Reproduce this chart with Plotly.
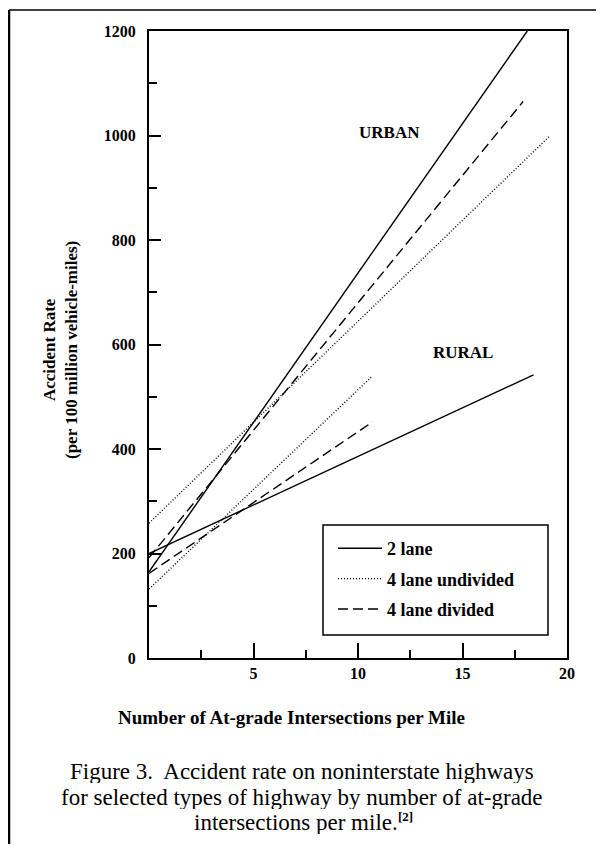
import plotly.graph_objects as go

# ---- data ----
x_axis_ticks = [5, 10, 15, 20]
x_minor_ticks = [2.5, 7.5, 12.5, 17.5]
y_axis_ticks = [0, 200, 400, 600, 800, 1000, 1200]
y_minor_ticks = [100, 300, 500, 700, 900, 1100]

series_names = ["2 lane", "4 lane undivided", "4 lane divided"]

urban_2lane_x = [0, 18.1]
urban_2lane_y = [165, 1200]
urban_4undiv_x = [0, 19.2]
urban_4undiv_y = [258, 1000]
urban_4div_x = [0, 17.9]
urban_4div_y = [192, 1065]

rural_2lane_x = [0, 18.4]
rural_2lane_y = [200, 542]
rural_4undiv_x = [0, 10.7]
rural_4undiv_y = [132, 540]
rural_4div_x = [0, 10.7]
rural_4div_y = [162, 452]

SERIF = "Liberation Serif"
dashes = {"2 lane": "solid", "4 lane undivided": "1px,2px", "4 lane divided": "10px,5px"}

fig = go.Figure()

urban = {"2 lane": (urban_2lane_x, urban_2lane_y),
         "4 lane undivided": (urban_4undiv_x, urban_4undiv_y),
         "4 lane divided": (urban_4div_x, urban_4div_y)}
rural = {"2 lane": (rural_2lane_x, rural_2lane_y),
         "4 lane undivided": (rural_4undiv_x, rural_4undiv_y),
         "4 lane divided": (rural_4div_x, rural_4div_y)}

for name in series_names:
    xs, ys = urban[name]
    fig.add_trace(go.Scatter(x=xs, y=ys, mode="lines", name=name, legendgroup=name,
                             line=dict(color="black", width=1.4, dash=dashes[name]),
                             showlegend=True, hoverinfo="skip"))
for name in series_names:
    xs, ys = rural[name]
    fig.add_trace(go.Scatter(x=xs, y=ys, mode="lines", name=name, legendgroup=name,
                             line=dict(color="black", width=1.4, dash=dashes[name]),
                             showlegend=False, hoverinfo="skip"))

# The page body adds an 8px margin; the figure is sized so it fills the window.
OFF = 8
W, H = 604 - 2 * OFF, 852 - 2 * OFF
PL, PT, PW, PH = 149, 31, 418, 627          # plot area in window pixels
L, T = PL - OFF, PT - OFF
R, B = W - L - PW, H - T - PH

def px(xpix):
    return (xpix - PL) / PW

def py(ypix):
    return (PT + PH - ypix) / PH

bold = dict(family=SERIF, size=16, color="black", weight="bold")

fig.update_layout(
    width=W, height=H,
    margin=dict(l=L, r=R, t=T, b=B),
    paper_bgcolor="white", plot_bgcolor="white",
    showlegend=True,
    legend=dict(x=px(333), y=py(530), xanchor="left", yanchor="top",
                bgcolor="rgba(0,0,0,0)", borderwidth=0,
                font=dict(family=SERIF, size=18, color="black", weight="bold"),
                tracegroupgap=4, itemwidth=44, traceorder="grouped"),
    xaxis=dict(range=[0, 20], showgrid=False, zeroline=False,
               showline=True, linecolor="black", linewidth=2, mirror=True,
               ticks="inside", ticklen=15, tickwidth=1.5, tickcolor="black",
               tickvals=x_axis_ticks, ticktext=[str(v) for v in x_axis_ticks],
               tickfont=bold, ticklabelstandoff=0,
               minor=dict(tickvals=x_minor_ticks, ticks="inside", ticklen=8,
                          tickwidth=1.5, tickcolor="black")),
    yaxis=dict(range=[0, 1200], showgrid=False, zeroline=False,
               showline=True, linecolor="black", linewidth=2, mirror=True,
               ticks="inside", ticklen=12, tickwidth=1.5, tickcolor="black",
               tickvals=y_axis_ticks, ticktext=[str(v) for v in y_axis_ticks],
               tickfont=bold, ticklabelstandoff=8,
               minor=dict(tickvals=y_minor_ticks, ticks="inside", ticklen=8,
                          tickwidth=1.5, tickcolor="black")),
)

# legend frame
fig.add_shape(type="rect", xref="paper", yref="paper",
              x0=px(323), x1=px(548), y0=py(635), y1=py(525),
              line=dict(color="black", width=1.5))
# page frame (left and top rules)
fig.add_shape(type="line", xref="paper", yref="paper",
              x0=px(9), x1=px(9), y0=py(10), y1=py(870),
              line=dict(color="black", width=2.5))
fig.add_shape(type="line", xref="paper", yref="paper",
              x0=px(9), x1=px(620), y0=py(10), y1=py(10),
              line=dict(color="black", width=1.5))

# in-plot labels
fig.add_annotation(x=11.5, y=1005, text="URBAN", showarrow=False,
                   font=dict(family=SERIF, size=17, color="black", weight="bold"))
fig.add_annotation(x=15.0, y=585, text="RURAL", showarrow=False,
                   font=dict(family=SERIF, size=17, color="black", weight="bold"))

# axis titles
fig.add_annotation(xref="paper", yref="paper", x=px(60), y=py(350),
                   text="Accident Rate<br>(per 100 million vehicle-miles)",
                   textangle=-90, showarrow=False, xanchor="center", yanchor="middle",
                   font=dict(family=SERIF, size=17, color="black", weight="bold"))
fig.add_annotation(xref="paper", yref="paper", x=px(291), y=py(717),
                   text="Number of At-grade Intersections per Mile",
                   showarrow=False, xanchor="center", yanchor="middle",
                   font=dict(family=SERIF, size=19, color="black", weight="bold"))

# caption
caption = ["Figure 3.&nbsp; Accident rate on noninterstate highways",
           "for selected types of highway by number of at-grade",
           "intersections per mile."]
caption_x = [302, 302, 296]
for i, line in enumerate(caption):
    fig.add_annotation(xref="paper", yref="paper", x=px(caption_x[i]), y=py(771 + 25.5 * i),
                       text=line, showarrow=False,
                       xanchor="center", yanchor="middle", height=24,
                       font=dict(family=SERIF, size=23, color="black"))
fig.add_annotation(xref="paper", yref="paper", x=px(396), y=py(816),
                   text="[2]", showarrow=False, xanchor="left", yanchor="middle",
                   height=14, font=dict(family=SERIF, size=13, color="black", weight="bold"))

fig.write_html("out.html")
